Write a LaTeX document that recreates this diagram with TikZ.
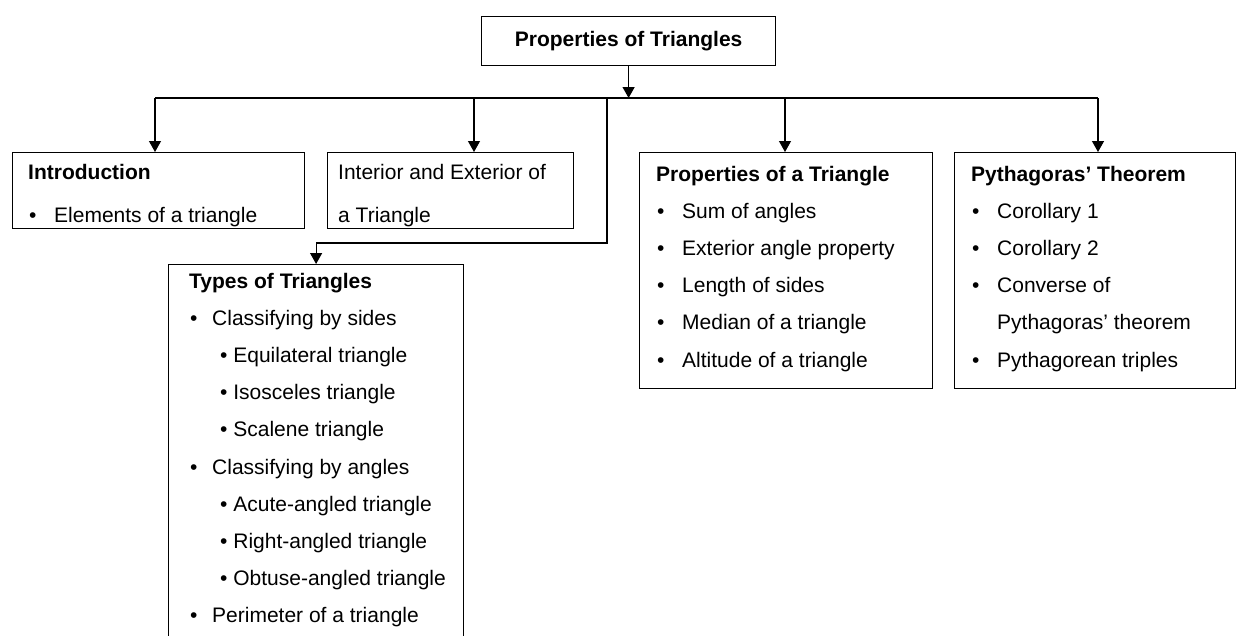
\documentclass[tikz,border=0pt]{standalone}
\usepackage{fontspec}
\setmainfont{Liberation Sans}
\usetikzlibrary{arrows.meta}

\newcommand{\bul}[2][26pt]{\makebox[#1][l]{\hspace{1pt}•}#2}
\newcommand{\subbul}[1]{\hspace*{31pt}•\ #1}
\newcommand{\lines}[2]{\parbox[t]{280pt}{\fontsize{21}{#1}\selectfont #2}}

\tikzset{
  box/.style={draw, line width=1.2pt, anchor=north west, inner sep=0pt},
  txt/.style={anchor=base west, inner sep=0pt},
  wire/.style={line width=1.2pt},
  arr/.style={wire, -{Triangle[width=12pt,length=11pt]}}
}

\begin{document}
\begin{tikzpicture}[x=1pt,y=-1pt]
            \clip (0,0) rectangle (1236,635);
            \node[box, minimum width=294pt, minimum height=49pt, font=\bfseries\fontsize{21}{25}\selectfont] (top) at (481,16) {Properties of Triangles};
            \node[box, minimum width=292pt, minimum height=76pt] (intro) at (12,152) {};
            \node[box, minimum width=246pt, minimum height=76pt] (inter) at (327,152) {};
            \node[box, minimum width=293pt, minimum height=236pt] (props) at (639,152) {};
            \node[box, minimum width=281pt, minimum height=236pt] (pyth) at (954,152) {};
            \node[box, minimum width=295pt, minimum height=400pt] (types) at (168,264) {};
            \node[txt] (intro-txt) at (28,179) {\lines{43pt}{\textbf{Introduction}\\ \bul{Elements of a triangle}}};
            \node[txt] (inter-txt) at (338,179) {\lines{43pt}{Interior and Exterior of\\ a Triangle}};
            \node[txt] (props-txt) at (656,181) {\lines{37.2pt}{\textbf{Properties of a Triangle}\\ \bul{Sum of angles}\\ \bul{Exterior angle property}\\ \bul{Length of sides}\\ \bul{Median of a triangle}\\ \bul{Altitude of a triangle}}};
            \node[txt] (pyth-txt) at (971,181) {\lines{37.2pt}{\textbf{Pythagoras’ Theorem}\\ \bul{Corollary 1}\\ \bul{Corollary 2}\\ \bul{Converse of}\\ \hspace*{26pt}Pythagoras’ theorem\\ \bul{Pythagorean triples}}};
            \node[txt] (types-txt) at (189,288) {\lines{37.2pt}{\textbf{Types of Triangles}\\ \bul[23pt]{Classifying by sides}\\ \subbul{Equilateral triangle}\\ \subbul{Isosceles triangle}\\ \subbul{Scalene triangle}\\ \bul[23pt]{Classifying by angles}\\ \subbul{Acute-angled triangle}\\ \subbul{Right-angled triangle}\\ \subbul{Obtuse-angled triangle}\\ \bul[23pt]{Perimeter of a triangle}}};
            \coordinate (bus) at (628,98);
            \coordinate (j1) at (155,98);
            \coordinate (j2) at (474,98);
            \coordinate (j3) at (607,98);
            \coordinate (j4) at (785,98);
            \coordinate (j5) at (1098,98);
            \coordinate (bend) at (607,243);
            \draw[wire] (j1) -- (j5);
            \draw[arr] (top.south) -- (top.south |- bus);
            \draw[arr] (j1) -- (j1 |- intro.north);
            \draw[arr] (j2) -- (j2 |- inter.north);
            \draw[arr] (j4) -- (j4 |- props.north);
            \draw[arr] (j5) -- (j5 |- pyth.north);
            \draw[arr] (j3) -- (bend) -- (bend -| types.north) -- (types.north);
\end{tikzpicture}
\end{document}
